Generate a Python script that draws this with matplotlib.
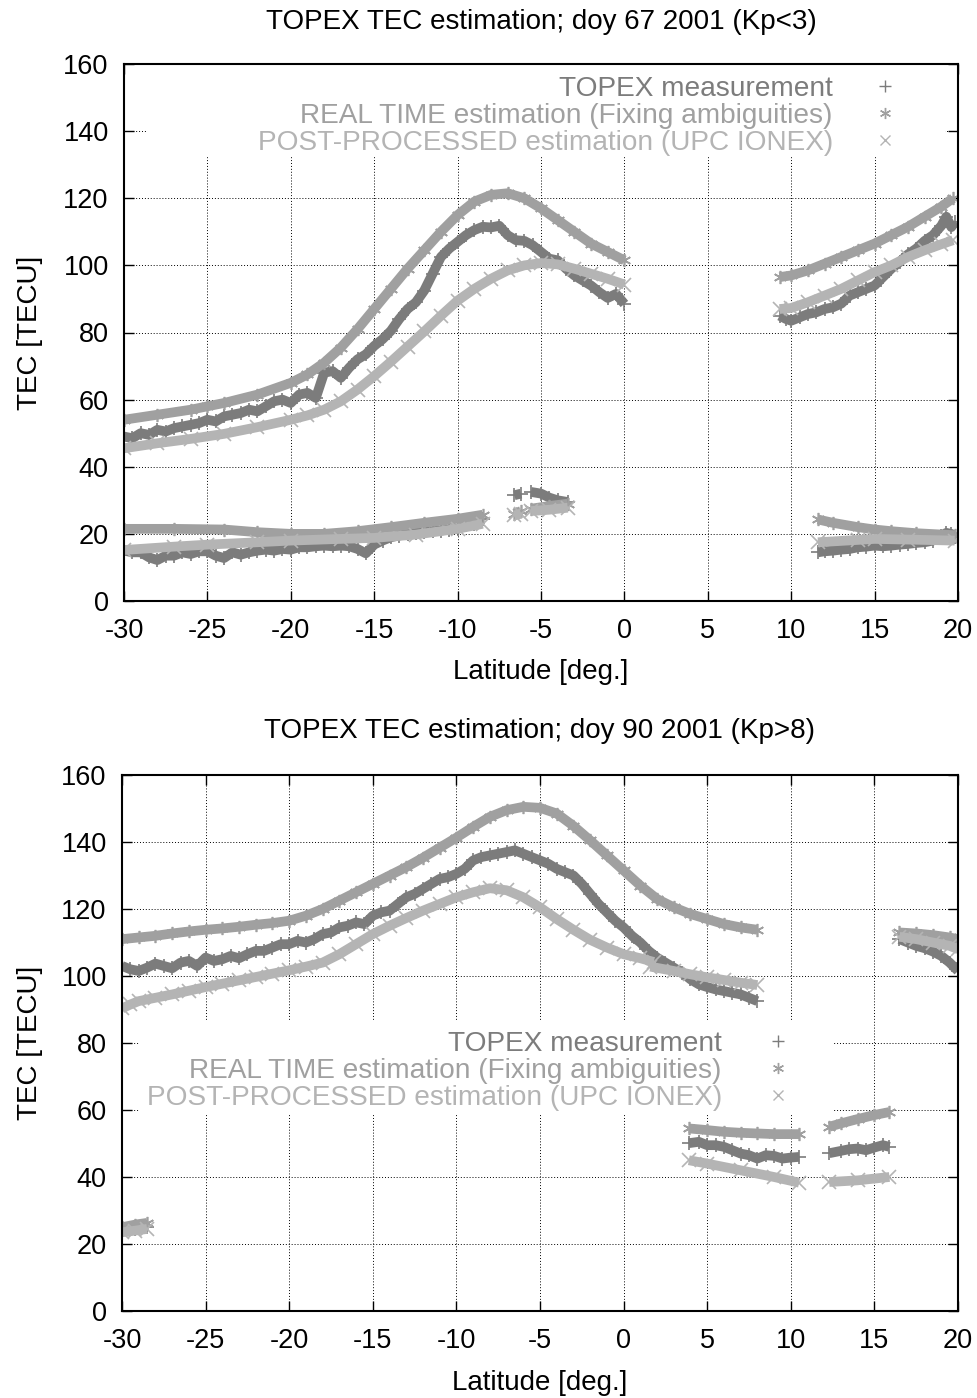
import numpy as np
import matplotlib
matplotlib.use("Agg")
import matplotlib.pyplot as plt
from matplotlib.lines import Line2D
from matplotlib.patches import Rectangle

nan = np.nan

# ---------------- data: doy 67 2001 (Kp<3) ----------------
LAT_TOPEX_67_HI = [-30, -29.5, -29, -28.5, -28, -27.5, -27, -26.5, -26, -25.5, -25, -24.5, -24, -23.5,
                   -23, -22.5, -22, -21.5, -21, -20.5, -20, -19.5, -19, -18.5, -18, -17.5, -17, -16.5,
                   -16, -15.5, -15, -14.5, -14, -13.5, -13, -12.5, -12, -11.5, -11, -10.5, -10, -9.5,
                   -9, -8.5, -8, -7.5, -7, -6.5, -6, -5.5, -5, -4.5, -4, -3.5, -3, -2.5, -2, -1.5,
                   -1, -0.5, 0, nan,
                   9.3, 9.7, 10, 10.5, 11, 11.5, 12, 12.5, 13, 13.5, 14, 14.5, 15, 15.5, 16, 16.5,
                   17, 17.5, 18, 18.5, 19, 19.3, 19.6, 19.8]
TEC_TOPEX_67_HI = [49, 48.5, 50, 49.5, 51, 50.5, 51.5, 52, 52.5, 53, 54, 53.5, 55, 55.5,
                   56, 57, 56.5, 58, 59.5, 60, 59, 61.5, 62, 60.5, 68, 68.5, 66.5, 69.5,
                   72, 73.5, 76, 78, 80.5, 84, 87, 89, 92.5, 97.5, 102.5, 105, 107, 109,
                   110.5, 111.5, 111.3, 111.8, 109, 107.5, 107.3, 106, 104, 102, 101.5, 99, 97, 95.5, 94, 92,
                   90.3, 91.5, 88.5, nan,
                   85, 84, 83.5, 84.5, 85.5, 86, 87, 87.5, 88.6, 91, 92, 93, 94, 96.5, 99, 101,
                   103.3, 105, 107.3, 109, 111.8, 114.5, 111.4, 113]
LAT_TOPEX_67_LO = [-30, -29.5, -29, -28.5, -28, -27.5, -27, -26.5, -26, -25.5, -25, -24.5, -24, -23.5,
                   -23, -22.5, -22, -21.5, -21, -20.5, -20, -19.5, -19, -18.5, -18, -17.5, -17, -16.5,
                   -16, -15.5, -15, -14.5, -14, -13.5, -13, -12.5, -12, -11.5, -11, -10.5, -10, -9.5,
                   -9, -8.5, nan,
                   -6.6, -6.2, nan,
                   -5.6, -5.0, -4.5, -4.0, -3.4, nan,
                   11.6, 12, 12.5, 13, 13.5, 14, 14.5, 15, 15.5, 16, 16.5, 17, 17.5, 18, 18.5, 19,
                   19.3, 19.6, 19.8]
TEC_TOPEX_67_LO = [15, 14.5, 14.5, 13, 12.2, 13.5, 13.5, 14.5, 14, 14.8, 14.8, 13.5, 12.8, 14.5,
                   13.8, 14.5, 15, 15.3, 15, 15.5, 15.3, 16, 16, 16.3, 16.5, 16.3, 16.5, 16.3,
                   15.5, 14.2, 16.8, 18, 19, 19.5, 20, 20.3, 20.5, 20.8, 21, 21.3, 21.5, 22.5,
                   23, 24.3, nan,
                   31.5, 32, nan,
                   32.5, 32, 30.8, 30, 29.5, nan,
                   14.5, 14.8, 15, 15.3, 15.5, 16, 16.2, 16.5, 16.3, 16.5, 16.8, 17, 17.3, 17.5, 18, 19.5,
                   20.3, 20, 19]

LAT_RT_67_HI = [-30, -28, -26, -25, -24, -22, -20, -19, -18, -17, -16, -15, -14, -13, -12, -11, -10,
                -9, -8, -7, -6, -5, -4, -3, -2, -1, 0, nan,
                9.3, 10, 11, 12, 13, 14, 15, 16, 17, 18, 19, 19.7]
TEC_RT_67_HI = [54, 55.5, 57, 58, 59, 61.5, 65, 67.5, 71, 75.5, 81, 87, 93, 99, 104.5, 110, 115,
                119, 121, 121.5, 120, 117, 113.5, 110, 106.5, 104, 101.5, nan,
                96.5, 97, 98.5, 100.5, 102.5, 104.5, 106.5, 109, 111.5, 114.5, 117.5, 120]
LAT_RT_67_LO = [-30, -27, -24, -22, -20, -18, -16, -14, -12, -10, -8.5, nan,
                -6.6, -6.2, nan,
                -5.6, -4.5, -3.4, nan,
                11.6, 12.5, 14, 15, 16, 17.5, 19.8]
TEC_RT_67_LO = [21.5, 21.5, 21.3, 20.5, 20, 20, 20.8, 22, 23.3, 24.5, 25.7, nan,
                26, 26.8, nan,
                27.5, 28.3, 29, nan,
                24.3, 23.3, 22, 21.3, 20.8, 20.2, 19.6]

LAT_PP_67_HI = [-30, -28, -26, -24, -22, -20, -19, -18, -17, -16, -15, -14, -13, -12, -11, -10,
                -9, -8, -7, -6, -5, -4, -3, -2, -1, 0, nan,
                9.3, 10, 11, 12, 13, 14, 15, 16, 17, 18, 19, 19.7]
TEC_PP_67_HI = [45.5, 47, 48.3, 49.8, 51.8, 54, 55.3, 57, 59.5, 63, 67, 71.3, 75.8, 80.3, 85, 89.5,
                93, 96, 98.5, 100, 100.7, 100.3, 99, 97.5, 96, 94.3, nan,
                87, 87.3, 89, 91, 93, 95.5, 98, 100, 102.5, 104.5, 106.3, 107.5]
LAT_PP_67_LO = [-30, -27, -25, -22, -20, -17, -15, -12.5, -10, -8.5, nan,
                -6.6, -6.2, nan,
                -5.6, -4.5, -3.4, nan,
                11.6, 14, 15, 17, 19.8]
TEC_PP_67_LO = [15.2, 16.2, 16.8, 17.5, 18, 18.5, 18.8, 19.8, 21.5, 23, nan,
                25.5, 26, nan,
                26.8, 27.2, 27.8, nan,
                17.5, 18.2, 18.5, 18.3, 18]

# ---------------- data: doy 90 2001 (Kp>8) ----------------
LAT_TOPEX_90 = [-30, -29.5, -29, -28.5, -28, -27.5, -27, -26.5, -26, -25.5, -25, -24.5, -24, -23.5,
                -23, -22.5, -22, -21.5, -21, -20.5, -20, -19.5, -19, -18.5, -18, -17.5, -17, -16.5,
                -16, -15.5, -15, -14.5, -14, -13.5, -13, -12.5, -12, -11.5, -11, -10.5, -10, -9.5,
                -9, -8.5, -8, -7.5, -7, -6.5, -6, -5.5, -5, -4.5, -4, -3.5, -3, -2.5, -2, -1.5,
                -1, -0.5, 0, 0.5, 1, 1.5, 2, 2.5, 3, 3.5, 4, 4.5, 5, 5.5, 6, 6.5, 7, 7.5, 8, nan,
                3.9, 4.5, 5, 5.5, 6, 6.5, 7, 7.5, 8, 8.5, 9, 9.5, 10, 10.5, nan,
                12.3, 13, 13.5, 14, 14.5, 15, 15.5, 15.9, nan,
                16.5, 17, 17.5, 18, 18.5, 19, 19.5, 20, nan,
                -30, -29.2, -28.5]
TEC_TOPEX_90 = [103, 102, 101.5, 102.5, 103.7, 103, 102.3, 104, 104.5, 103, 105.5, 104.5, 105, 106,
                105.3, 106.5, 107.5, 107.5, 108.5, 109.5, 109.5, 110.5, 110, 111, 112.5, 113, 114.5, 115,
                116, 115.5, 118, 119, 119.5, 121.5, 123.5, 124.5, 126, 127.5, 129, 129.5, 130.5, 132,
                134.5, 135.5, 136, 136.5, 137, 137.5, 136.5, 135.5, 134.5, 133.5, 132, 131, 130, 127.5,
                124.5, 121.5, 119, 116.5, 114.5, 112, 110, 107.5, 105.5, 104, 102.5, 101, 99, 97.5,
                96.7, 96, 95.5, 95, 94.5, 93.5, 92.5, nan,
                50.1, 50.5, 49.5, 49.5, 49, 48, 47, 46.5, 45.5, 46.5, 46.3, 45.5, 45.8, 46, nan,
                47.1, 47.8, 48.3, 48.5, 48, 48.8, 49.5, 49, nan,
                111, 110, 109, 108.3, 107.3, 106, 104, 101.5, nan,
                24, 24.5, 25]

LAT_RT_90 = [-30, -29, -28, -27, -26, -25, -24, -23, -22, -21, -20, -19, -18, -17, -16, -15, -14,
             -13, -12, -11, -10, -9, -8, -7, -6, -5, -4, -3, -2, -1, 0, 1, 2, 3, 4, 5, 6, 7, 8, nan,
             3.9, 5, 6, 7, 8, 9, 10.5, nan,
             12.3, 13, 14, 15, 15.9, nan,
             16.5, 17.5, 18.5, 19.5, 20, nan,
             -30, -29.2, -28.5]
TEC_RT_90 = [111, 111.5, 112, 112.7, 113.3, 113.8, 114.2, 114.7, 115.3, 115.8, 116.5, 118, 120, 122.5,
             125, 127.5, 130, 132.5, 135.3, 138.3, 141.3, 144.5, 147.5, 149.5, 150.5, 150.2, 148.5,
             144.8, 140.5, 136, 131.5, 127, 123, 120.5, 118.5, 117, 115.5, 114.5, 113.8, nan,
             54.5, 54, 53.5, 53.2, 53, 52.8, 52.8, nan,
             55, 56, 57.3, 58.5, 59.4, nan,
             113, 112.7, 112.2, 111.5, 111, nan,
             25, 25.8, 26.3]

LAT_PP_90 = [-30, -29.5, -29, -28, -27, -26, -25, -24, -23, -22, -21, -20, -19, -18, -17, -16, -15,
             -14, -13, -12, -11, -10, -9, -8, -7, -6, -5, -4, -3, -2, -1, 0, 1, 1.8, nan,
             1.6, 3, 4, 5, 6, 7, 8, nan,
             3.9, 5, 7, 9, 10.5, nan,
             12.3, 14, 15.9, nan,
             16.5, 17.5, 18.5, 19.5, 20, nan,
             -30, -29.2, -28.5]
TEC_PP_90 = [90.3, 91.5, 92.5, 93.5, 94.5, 95.6, 96.7, 97.7, 98.7, 99.7, 100.7, 101.7, 102.8, 104,
             106.5, 109.5, 112.5, 115, 117.3, 119.5, 121.5, 123.5, 125, 126.2, 125.6, 123.5, 120.5,
             117, 113.8, 110.8, 108.5, 106.5, 105.3, 104.2, nan,
             102.8, 101.5, 100.5, 99.6, 98.8, 98, 97.3, nan,
             45, 44, 42, 40, 38.3, nan,
             38.5, 39, 40, nan,
             111.7, 111, 110, 109, 108, nan,
             23.5, 24, 24.5]

XTICKS = [-30, -25, -20, -15, -10, -5, 0, 5, 10, 15, 20]
YTICKS = [0, 20, 40, 60, 80, 100, 120, 140, 160]
LABELS = ["TOPEX measurement",
          "REAL TIME estimation (Fixing ambiguities)",
          "POST-PROCESSED estimation (UPC IONEX)"]
TITLES = ["TOPEX TEC estimation; doy 67 2001 (Kp<3)",
          "TOPEX TEC estimation; doy 90 2001 (Kp>8)"]

C_TOPEX = '#7c7c7c'
C_RT = '#a0a0a0'
C_PP = '#b4b4b4'
M_TOPEX = '+'
M_RT = (6, 2, 0)
M_PP = 'x'

plt.rcParams['font.family'] = ['Liberation Sans', 'DejaVu Sans']
plt.rcParams['axes.unicode_minus'] = False

FS = 20
W, H = 977, 1398
fig = plt.figure(figsize=(W / 100, H / 100), dpi=100)
ax1 = fig.add_axes([124 / W, 1 - 601 / H, 834 / W, 537 / H])
ax2 = fig.add_axes([122 / W, 1 - 1311 / H, 836 / W, 536 / H])


def style(ax, title, title_y, xlab_y, ylab_x):
    ax.set_xlim(-30, 20)
    ax.set_ylim(0, 160)
    ax.set_xticks(XTICKS)
    ax.set_yticks(YTICKS)
    ax.tick_params(direction='in', length=7, width=1, top=True, right=True,
                   labelsize=19.5, colors='black')
    ax.tick_params(axis='x', pad=12)
    ax.tick_params(axis='y', pad=11)
    ax.grid(True, color='black', linestyle=(0, (1, 2)), linewidth=0.7)
    ax.set_axisbelow(True)
    for s in ax.spines.values():
        s.set_linewidth(1.5)
    ax.set_title(title, fontsize=FS, y=title_y, va='center', pad=0)
    ax.set_xlabel('Latitude [deg.]', fontsize=FS, va='center')
    ax.xaxis.set_label_coords(0.5, xlab_y)
    ax.set_ylabel('TEC [TECU]', fontsize=FS, va='center')
    ax.yaxis.set_label_coords(ylab_x, 0.5)


def series(ax, lat, tec, color, marker):
    ax.plot(lat, tec, color=color, lw=7, solid_capstyle='butt',
            marker=marker, ms=9.5, mew=1.2, zorder=2)


def legend(ax, anchor, textpad):
    handles = [Line2D([], [], ls='none', marker=M_TOPEX, color=C_TOPEX, ms=8, mew=1),
               Line2D([], [], ls='none', marker=M_RT, color=C_RT, ms=8, mew=1),
               Line2D([], [], ls='none', marker=M_PP, color=C_PP, ms=7, mew=1)]
    leg = ax.legend(handles, LABELS, loc='upper right', bbox_to_anchor=anchor,
                    frameon=False, markerfirst=False, borderpad=0, borderaxespad=0,
                    handlelength=1.0, handletextpad=textpad, labelspacing=0.04,
                    fontsize=20.2)
    for t, c in zip(leg.get_texts(), [C_TOPEX, C_RT, C_PP]):
        t.set_color(c)


# ---- top panel ----
style(ax1, TITLES[0], 1 + (64 - 22) / 537, (601 - 672) / 537, (30 - 124) / 834)
ax1.add_patch(Rectangle((-28.7, 132.3), 47.9, 30, facecolor='white', edgecolor='none', zorder=1.2))
series(ax1, LAT_TOPEX_67_HI, TEC_TOPEX_67_HI, C_TOPEX, M_TOPEX)
series(ax1, LAT_TOPEX_67_LO, TEC_TOPEX_67_LO, C_TOPEX, M_TOPEX)
series(ax1, LAT_RT_67_HI, TEC_RT_67_HI, C_RT, M_RT)
series(ax1, LAT_RT_67_LO, TEC_RT_67_LO, C_RT, M_RT)
series(ax1, LAT_PP_67_HI, TEC_PP_67_HI, C_PP, M_PP)
series(ax1, LAT_PP_67_LO, TEC_PP_67_LO, C_PP, M_PP)
legend(ax1, ((899 - 124) / 834, 1 - (75.5 - 64) / 537), 1.357)

# ---- bottom panel ----
style(ax2, TITLES[1], 1 + (775 - 731) / 536, (1311 - 1383) / 536, (30 - 122) / 836)
ax2.add_patch(Rectangle((-29.0, 58.8), 41.5, 28.1, facecolor='white', edgecolor='none', zorder=1.2))
series(ax2, LAT_TOPEX_90, TEC_TOPEX_90, C_TOPEX, M_TOPEX)
series(ax2, LAT_RT_90, TEC_RT_90, C_RT, M_RT)
series(ax2, LAT_PP_90, TEC_PP_90, C_PP, M_PP)
legend(ax2, ((792 - 122) / 836, (1311 - 1031) / 536), 1.5)

fig.savefig('out.png', dpi=100)
